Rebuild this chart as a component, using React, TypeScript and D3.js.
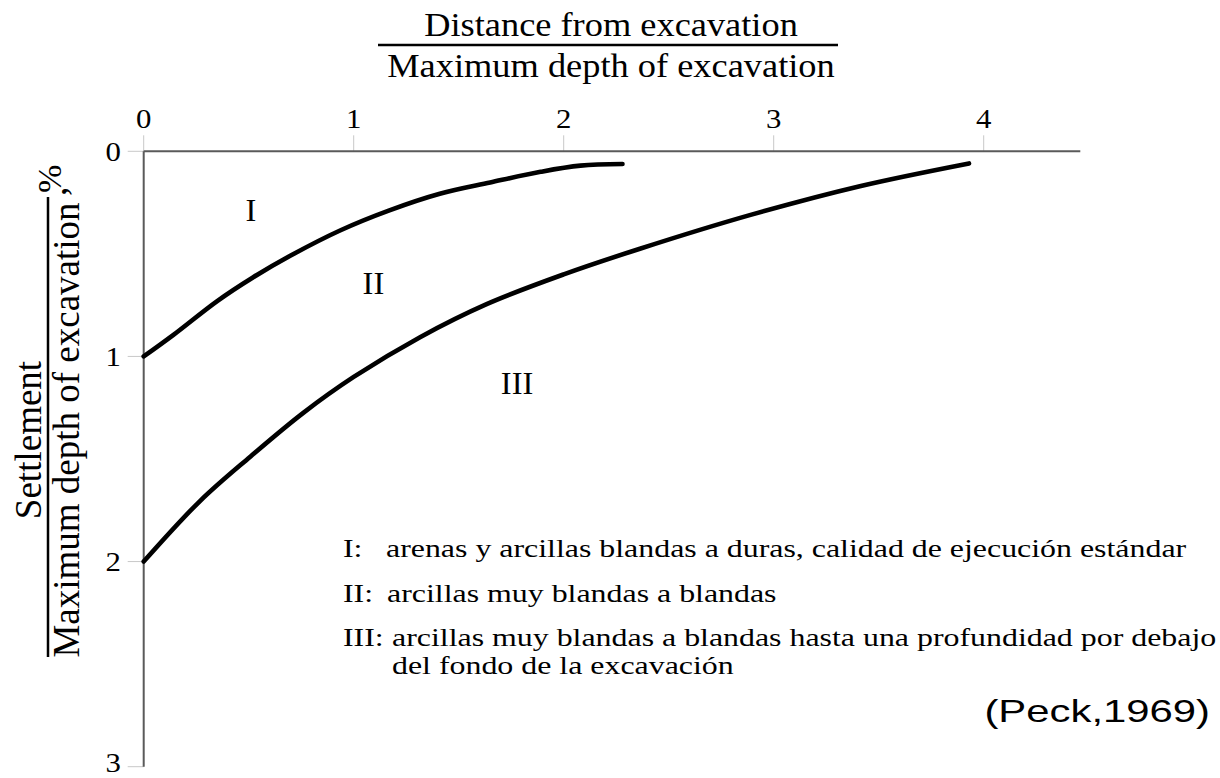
import React from "react";
import * as d3 from "d3";

// Peck (1969) settlement envelopes behind braced excavations
const xTicks = [0, 1, 2, 3, 4];
const yTicks = [0, 1, 2, 3];

// Zone boundary I / II
const boundaryI_distance = [0, 0.14, 0.35, 0.52, 0.7, 0.935, 1.17, 1.41, 1.65, 1.89, 2.08, 2.28];
const boundaryI_settlement = [1.0, 0.896, 0.73, 0.615, 0.508, 0.386, 0.288, 0.207, 0.152, 0.1, 0.07, 0.062];

// Zone boundary II / III
const boundaryII_distance = [0, 0.268, 0.506, 0.76, 1.0, 1.316, 1.633, 2.0, 2.363, 2.89, 3.41, 3.93];
const boundaryII_settlement = [2.0, 1.705, 1.49, 1.275, 1.1, 0.906, 0.745, 0.6, 0.475, 0.31, 0.17, 0.059];

const zoneLabels = ["I", "II", "III"];
const zoneLabelDistance = [0.51, 1.094, 1.778];
const zoneLabelSettlement = [0.29, 0.645, 1.13];

const legendKeys = ["I:", "II:", "III:"];
const legendLines = [
  ["arenas y arcillas blandas a duras, calidad de ejecución estándar"],
  ["arcillas muy blandas a blandas"],
  ["arcillas muy blandas a blandas hasta una profundidad por debajo", "del fondo de la excavación"],
];

const SERIF = "'Liberation Serif', 'Times New Roman', serif";
const SANS = "'Liberation Sans', Arial, sans-serif";

function SText(props: {
  x: number;
  y: number;
  size: number;
  sx?: number;
  rotate?: number;
  anchor?: string;
  family?: string;
  children: React.ReactNode;
}) {
  const { x, y, size, sx = 1, rotate = 0, anchor = "start", family = SERIF, children } = props;
  const t = `translate(${x},${y}) scale(${sx},1)` + (rotate ? ` rotate(${rotate})` : "");
  return (
    <g transform={t}>
      <text fontSize={size} textAnchor={anchor as any} fontFamily={family} fill="#000">
        {children}
      </text>
    </g>
  );
}

export default function App() {
  const W = 1220;
  const H = 778;
  const x = d3.scaleLinear().domain([0, 4]).range([143.7, 983.7]);
  const y = d3.scaleLinear().domain([0, 3]).range([151.3, 766.7]);
  const xMax = 4.46;

  const line = d3
    .line<[number, number]>()
    .x((d) => x(d[0]))
    .y((d) => y(d[1]))
    .curve(d3.curveCatmullRom.alpha(0.5));

  const curves = [
    d3.zip(boundaryI_distance, boundaryI_settlement) as [number, number][],
    d3.zip(boundaryII_distance, boundaryII_settlement) as [number, number][],
  ];

  const legendX = 343;
  const legendBodyX = [386, 387, 392];
  const legendBase = [557, 602, 646];
  const LEG_SIZE = 25;
  const LEG_SX = 1.276;
  const LEG_WRAP = 28;

  return (
    <svg
      width={W}
      height={H}
      style={{ position: "absolute", left: 0, top: 0, background: "#fff" }}
    >
      <rect width={W} height={H} fill="#fff" />

      {/* top axis title as a fraction */}
      <SText x={611} y={36} size={34} sx={1.07} anchor="middle">
        Distance from excavation
      </SText>
      <line x1={378} x2={838} y1={45} y2={45} stroke="#000" strokeWidth={2.5} />
      <SText x={611} y={77} size={34} sx={1.07} anchor="middle">
        Maximum depth of excavation
      </SText>

      {/* left axis title as a fraction */}
      <SText x={41} y={440} size={37} rotate={-90} anchor="middle">
        Settlement
      </SText>
      <line x1={48} x2={48} y1={197} y2={657} stroke="#000" strokeWidth={2.5} />
      <SText x={79} y={430} size={37} rotate={-90} anchor="middle">
        Maximum depth of excavation
      </SText>
      <SText x={66} y={196} size={37} rotate={-90} anchor="start">
        ,
      </SText>
      <SText x={61} y={193} size={34} rotate={-90} anchor="start">
        %
      </SText>

      {/* ticks */}
      {xTicks.map((t) => (
        <line key={"xt" + t} x1={x(t)} x2={x(t)} y1={y(0) - 16} y2={y(0)} stroke="#c8c8c8" strokeWidth={1} />
      ))}
      {yTicks.map((t) => (
        <line key={"yt" + t} x1={x(0) - 16} x2={x(0)} y1={y(t)} y2={y(t)} stroke="#c8c8c8" strokeWidth={1} />
      ))}

      {/* axes */}
      <line x1={x(0)} x2={x(xMax)} y1={y(0)} y2={y(0)} stroke="#5a5a5a" strokeWidth={2} />
      <line x1={x(0)} x2={x(0)} y1={y(0)} y2={y(3)} stroke="#5a5a5a" strokeWidth={2} />

      {/* tick labels */}
      {xTicks.map((t) => (
        <SText key={"xl" + t} x={x(t)} y={127.5} size={28} sx={1.1} anchor="middle">
          {String(t)}
        </SText>
      ))}
      {yTicks.map((t) => (
        <SText key={"yl" + t} x={121} y={Math.min(y(t) + 9.5, 772)} size={28} sx={1.1} anchor="end">
          {String(t)}
        </SText>
      ))}

      {/* zone boundaries */}
      {curves.map((c, i) => (
        <path
          key={"c" + i}
          d={line(c) || ""}
          fill="none"
          stroke="#000"
          strokeWidth={4.6}
          strokeLinecap="round"
          strokeLinejoin="round"
        />
      ))}

      {/* zone labels */}
      {zoneLabels.map((lab, i) => (
        <SText
          key={"z" + lab}
          x={x(zoneLabelDistance[i])}
          y={y(zoneLabelSettlement[i]) + 10.5}
          size={31}
          sx={1.05}
          anchor="middle"
        >
          {lab}
        </SText>
      ))}

      {/* legend */}
      {legendKeys.map((k, i) => (
        <g key={"lg" + i}>
          <SText x={legendX} y={legendBase[i]} size={LEG_SIZE} sx={LEG_SX}>
            {k}
          </SText>
          {legendLines[i].map((ln, j) => (
            <SText
              key={"lgl" + j}
              x={j === 0 ? legendBodyX[i] : 392}
              y={legendBase[i] + j * LEG_WRAP}
              size={LEG_SIZE}
              sx={LEG_SX}
            >
              {ln}
            </SText>
          ))}
        </g>
      ))}

      {/* source */}
      <SText x={1210} y={722} size={31} sx={1.35} anchor="end" family={SANS}>
        (Peck,1969)
      </SText>
    </svg>
  );
}
